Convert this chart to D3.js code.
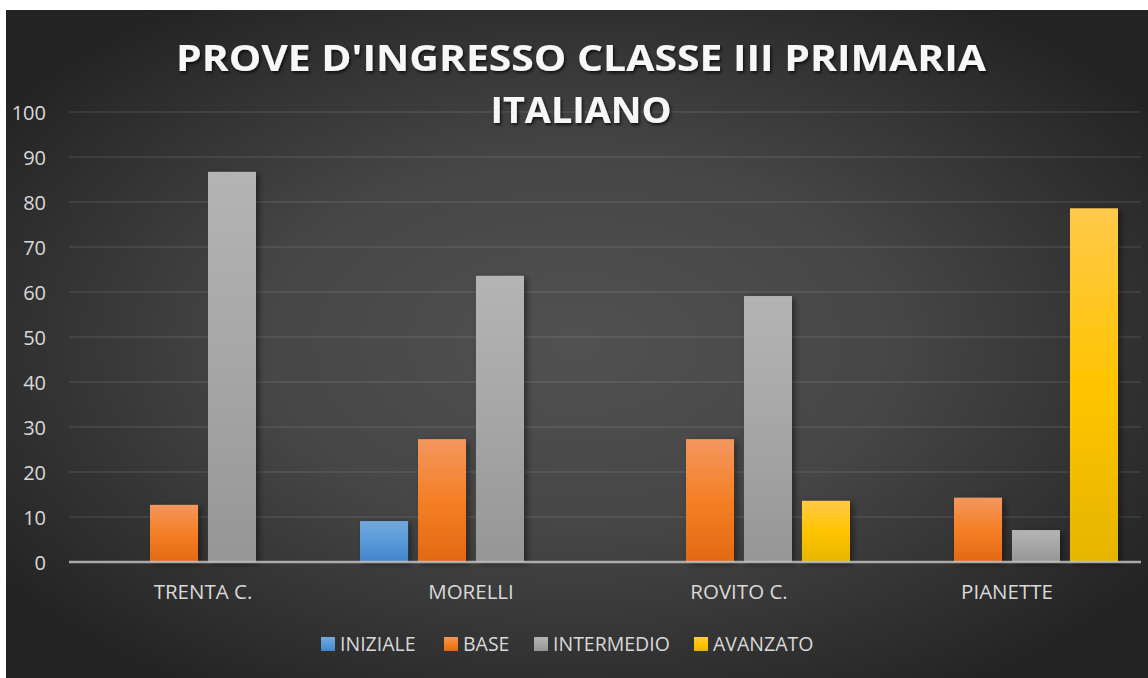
<!DOCTYPE html>
<html>
<head>
<meta charset="utf-8">
<script src="https://cdn.jsdelivr.net/npm/d3@7"></script>
<style>
  body { margin: 0; background: #fff; }
  svg { display: block; }
</style>
</head>
<body>
<svg id="chart" width="1148" height="678"></svg>
<script>
const classi = ["TRENTA C.", "MORELLI", "ROVITO C.", "PIANETTE"];
const livelli = ["INIZIALE", "BASE", "INTERMEDIO", "AVANZATO"];
const iniziale = [0, 9.1, 0, 0];
const base = [12.7, 27.3, 27.3, 14.3];
const intermedio = [86.7, 63.6, 59.1, 7.1];
const avanzato = [0, 0, 13.6, 78.6];
const yTicks = [0, 10, 20, 30, 40, 50, 60, 70, 80, 90, 100];

const serie = [iniziale, base, intermedio, avanzato];
const colori = [
  ["#71a9de", "#5a9ad9", "#3f85c9"],
  ["#f4975e", "#f47f25", "#e36914"],
  ["#b4b4b4", "#a6a6a6", "#969696"],
  ["#ffc94a", "#ffc500", "#e6b500"]
];

const svg = d3.select("#chart");
const defs = svg.append("defs");

// sfondo scuro con sfumatura radiale
const bg = defs.append("radialGradient")
  .attr("id", "bg")
  .attr("cx", "50%").attr("cy", "50%").attr("r", "62%")
  .attr("gradientUnits", "objectBoundingBox");
bg.append("stop").attr("offset", "0%").attr("stop-color", "#515151");
bg.append("stop").attr("offset", "45%").attr("stop-color", "#464646");
bg.append("stop").attr("offset", "100%").attr("stop-color", "#232323");

colori.forEach((c, i) => {
  const lg = defs.append("linearGradient")
    .attr("id", "grad" + i)
    .attr("x1", 0).attr("y1", 0).attr("x2", 0).attr("y2", 1);
  lg.append("stop").attr("offset", "0%").attr("stop-color", c[0]);
  lg.append("stop").attr("offset", "50%").attr("stop-color", c[1]);
  lg.append("stop").attr("offset", "100%").attr("stop-color", c[2]);
});

const shadow = defs.append("filter").attr("id", "shadow")
  .attr("x", "-20%").attr("y", "-10%").attr("width", "160%").attr("height", "130%");
shadow.append("feDropShadow")
  .attr("dx", 3).attr("dy", 2).attr("stdDeviation", 3)
  .attr("flood-color", "#000").attr("flood-opacity", 0.45);

const tshadow = defs.append("filter").attr("id", "tshadow")
  .attr("x", "-5%").attr("y", "-20%").attr("width", "110%").attr("height", "150%");
tshadow.append("feDropShadow")
  .attr("dx", 1.5).attr("dy", 2).attr("stdDeviation", 1.5)
  .attr("flood-color", "#000").attr("flood-opacity", 0.7);

svg.append("rect")
  .attr("x", 6).attr("y", 10)
  .attr("width", 1142).attr("height", 668)
  .attr("fill", "url(#bg)");

const mLeft = 69, mRight = 1141, mTop = 112, mBottom = 562;

const x = d3.scaleBand().domain(classi).range([mLeft, mRight]);
const x1 = d3.scaleBand().domain(d3.range(livelli.length))
  .range([x.bandwidth() / 2 - 111, x.bandwidth() / 2 + 111])
  .paddingInner(0.172);
const y = d3.scaleLinear().domain([0, 100]).range([mBottom, mTop]);

// griglia
svg.append("g")
  .selectAll("line")
  .data(yTicks.filter(d => d > 0))
  .join("line")
  .attr("x1", mLeft).attr("x2", mRight)
  .attr("y1", d => y(d)).attr("y2", d => y(d))
  .attr("stroke", "#ffffff").attr("stroke-opacity", 0.1)
  .attr("stroke-width", 1.5);

// asse y
const yAxis = svg.append("g")
  .attr("transform", `translate(${mLeft - 23},0)`)
  .call(d3.axisLeft(y).tickValues(yTicks).tickSize(0).tickPadding(0));
yAxis.select(".domain").remove();
yAxis.selectAll("text")
  .attr("fill", "#d9d9d9")
  .attr("font-family", "'Open Sans', sans-serif")
  .attr("font-size", 20)
  .attr("dy", "0.35em");

// barre
const gruppi = svg.append("g")
  .selectAll("g")
  .data(classi)
  .join("g")
  .attr("transform", d => `translate(${x(d)},0)`);

gruppi.selectAll("rect")
  .data((d, ci) => serie.map((s, si) => ({ si, v: s[ci] })).filter(d => d.v > 0))
  .join("rect")
  .attr("x", d => x1(d.si))
  .attr("width", x1.bandwidth())
  .attr("y", d => y(d.v))
  .attr("height", d => y(0) - y(d.v))
  .attr("fill", d => "url(#grad" + d.si + ")")
  .attr("filter", "url(#shadow)");

// linea dello zero
svg.append("line")
  .attr("x1", mLeft).attr("x2", mRight)
  .attr("y1", y(0)).attr("y2", y(0))
  .attr("stroke", "#bfbfbf").attr("stroke-opacity", 0.85)
  .attr("stroke-width", 2.5);

// etichette categorie
const xAxis = svg.append("g")
  .attr("transform", `translate(0,${mBottom})`)
  .call(d3.axisBottom(x).tickSize(0).tickPadding(0));
xAxis.select(".domain").remove();
xAxis.selectAll("text")
  .attr("fill", "#d9d9d9")
  .attr("font-family", "'Open Sans', sans-serif")
  .attr("font-size", 20.5)
  .attr("y", 37)
  .attr("dy", 0);

// titolo
const titolo = ["PROVE D'INGRESSO CLASSE III PRIMARIA", "ITALIANO"];
const tw = [810, 181];
svg.append("g")
  .selectAll("text")
  .data(titolo)
  .join("text")
  .attr("x", 581)
  .attr("y", (d, i) => 71 + i * 52)
  .attr("text-anchor", "middle")
  .attr("fill", "#f7f7f7")
  .attr("font-family", "'Open Sans', sans-serif")
  .attr("font-weight", "bold")
  .attr("font-size", 36)
  .attr("textLength", (d, i) => tw[i])
  .attr("lengthAdjust", "spacingAndGlyphs")
  .attr("filter", "url(#tshadow)")
  .text(d => d);

// legenda
const legX = [321, 444, 534, 694];
const leg = svg.append("g")
  .selectAll("g")
  .data(livelli)
  .join("g")
  .attr("transform", (d, i) => `translate(${legX[i]},637)`);
leg.append("rect")
  .attr("width", 14).attr("height", 14)
  .attr("fill", (d, i) => "url(#grad" + i + ")");
leg.append("text")
  .attr("x", 19).attr("y", 14)
  .attr("fill", "#d9d9d9")
  .attr("font-family", "'Open Sans', sans-serif")
  .attr("font-size", 19.5)
  .text(d => d);
</script>
</body>
</html>
